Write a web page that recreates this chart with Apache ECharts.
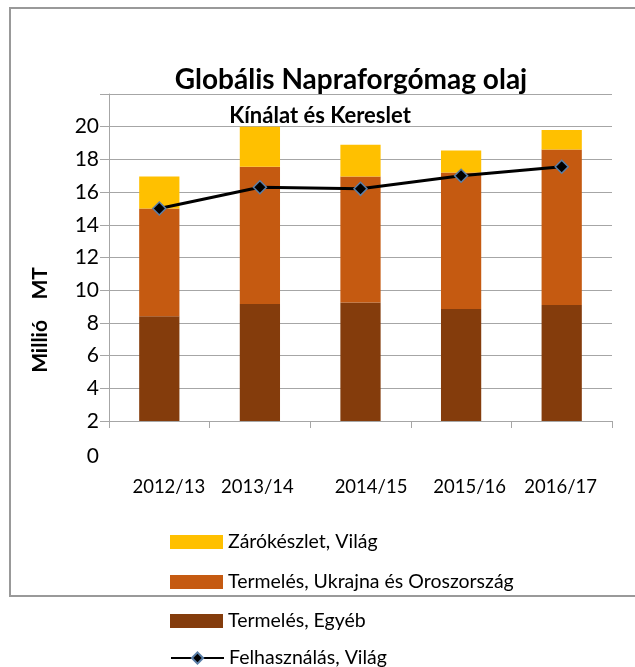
<!DOCTYPE html>
<html>
<head>
<meta charset="utf-8">
<script src="https://cdn.jsdelivr.net/npm/echarts@6/dist/echarts.min.js"></script>
<style>
html,body{margin:0;padding:0;background:#fff;}
#c{width:635px;height:667px;}
</style>
</head>
<body>
<div id="c"></div>
<script>
const categories = ['2012/13', '2013/14', '2014/15', '2015/16', '2016/17'];
const termelesEgyeb = [8.4, 9.15, 9.25, 8.85, 9.1];
const termelesUkrOrosz = [6.6, 8.4, 7.7, 8.35, 9.5];
const zarokeszlet = [1.95, 2.45, 1.95, 1.35, 1.2];
const felhasznalas = [15.0, 16.3, 16.2, 17.0, 17.55];
const yTicks = [2, 4, 6, 8, 10, 12, 14, 16, 18, 20];
const extraTick = '0';
const legendNames = ['Zárókészlet, Világ', 'Termelés, Ukrajna és Oroszország', 'Termelés, Egyéb', 'Felhasználás, Világ'];

const FONT = 'Lato';
// label nudges (px) reproducing the reference's uneven category label placement
const labelShift = [19, -5, 21, 17, -2];
const rich = {};
labelShift.forEach((s, i) => {
  rich['l' + i] = {fontFamily: FONT, fontSize: 18.5, color: '#000',
    padding: s >= 0 ? [0, 0, 0, s] : [0, -s, 0, 0]};
});

const legendTops = [532, 572, 611, 648];
const legends = legendNames.map((n, i) => ({
  orient: 'vertical', left: 170, top: legendTops[i], padding: 0,
  itemWidth: 53, itemHeight: 14, itemGap: 5,
  textStyle: {fontFamily: FONT, fontSize: 19.5, color: '#000'},
  data: [i < 3 ? {name: n, icon: 'rect'} : {name: n}]
}));

const chart = echarts.init(document.getElementById('c'), null, {renderer: 'canvas'});
chart.setOption({
  backgroundColor: '#fff',
  animation: false,
  textStyle: {fontFamily: FONT},
  title: [
    {text: 'Globális Napraforgómag olaj', left: 346, top: 61, textAlign: 'center',
     textStyle: {fontFamily: FONT, fontSize: 28, fontWeight: 'bold', color: '#000'}},
    {text: 'Kínálat és Kereslet', left: 315, top: 100, textAlign: 'center',
     textStyle: {fontFamily: FONT, fontSize: 22, fontWeight: 'bold', color: '#000'}}
  ],
  grid: {left: 109, right: 23, top: 94, bottom: 246, containLabel: false},
  legend: legends,
  xAxis: {
    type: 'category', data: categories,
    axisLine: {lineStyle: {color: '#a6a6a6', width: 1}},
    axisTick: {show: true, length: 7, lineStyle: {color: '#a6a6a6'}},
    axisLabel: {fontFamily: FONT, fontSize: 18.5, color: '#000', margin: 57, rich: rich,
      interval: 0, hideOverlap: false,
      formatter: (v, i) => '{l' + i + '|' + v + '}'}
  },
  yAxis: {
    type: 'value', min: 2, max: 22, interval: 2,
    axisLine: {show: true, lineStyle: {color: '#a6a6a6'}},
    axisTick: {show: true, length: 9, lineStyle: {color: '#a6a6a6'}},
    splitLine: {lineStyle: {color: '#a6a6a6', width: 1}},
    axisLabel: {fontFamily: FONT, fontSize: 21, color: '#000', margin: 10,
      formatter: v => yTicks.indexOf(v) >= 0 ? String(v) : ''}
  },
  graphic: [
    {type: 'rect', z: -1, shape: {x: 10, y: 8, width: 640, height: 588},
     style: {fill: 'none', stroke: '#999', lineWidth: 2}},
    {type: 'text', x: 99, y: 456,
     style: {text: extraTick, fontFamily: FONT, fontSize: 21, fill: '#000', align: 'right', verticalAlign: 'middle'}},
    {type: 'text', x: 40, y: 320, rotation: Math.PI / 2,
     style: {text: 'Millió    MT', fontFamily: FONT, fontSize: 21, fontWeight: 'bold', fill: '#000',
       align: 'center', verticalAlign: 'middle'}}
  ],
  series: [
    {name: 'Termelés, Egyéb', type: 'bar', stack: 's', data: termelesEgyeb,
     barWidth: '40%', itemStyle: {color: '#843C0C'}},
    {name: 'Termelés, Ukrajna és Oroszország', type: 'bar', stack: 's', data: termelesUkrOrosz,
     itemStyle: {color: '#C55A11'}},
    {name: 'Zárókészlet, Világ', type: 'bar', stack: 's', data: zarokeszlet,
     itemStyle: {color: '#FFC000'}},
    {name: 'Felhasználás, Világ', type: 'line', data: felhasznalas,
     symbol: 'diamond', symbolSize: 13,
     lineStyle: {color: '#000', width: 3},
     itemStyle: {color: '#000', borderColor: '#5b7fa8', borderWidth: 1.5}, z: 5}
  ]
});
</script>
</body>
</html>
